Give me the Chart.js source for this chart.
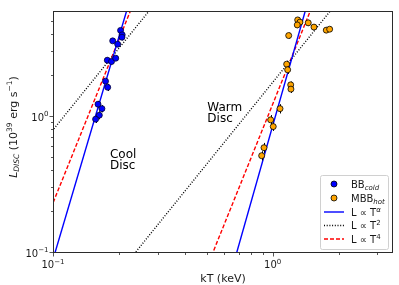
<!DOCTYPE html>
<html>
<head>
<meta charset="utf-8">
<script src="https://cdn.jsdelivr.net/npm/chart.js@4"></script>
<style>
html, body { margin: 0; padding: 0; background: #ffffff; }
#wrap { width: 399px; height: 285px; }
</style>
</head>
<body>
<div id="wrap"><canvas id="grafico"></canvas></div>
<script>
// BB cold
const coldT = [0.203, 0.2065, 0.206, 0.187, 0.197, 0.1767, 0.1846, 0.193, 0.1734, 0.1774, 0.1603, 0.167, 0.1625, 0.1563];
const coldL = [4.32, 4.01, 3.85, 3.62, 3.42, 2.61, 2.55, 2.70, 1.83, 1.65, 1.24, 1.15, 1.03, 0.962];
const coldErr = [0.2, 0.2, 0.2, 0.15, 0.15, 0.12, 0.12, 0.12, 0.1, 0.1, 0.07, 0.07, 0.07, 0.06];

// MBB hot
const hotT = [1.30, 1.331, 1.294, 1.452, 1.542, 1.754, 1.817, 1.183, 1.158, 1.17, 1.208, 1.211, 1.08, 0.979, 1.006, 0.913, 0.891];
const hotL = [5.16, 4.97, 4.74, 4.91, 4.57, 4.34, 4.41, 3.96, 2.44, 2.22, 1.72, 1.60, 1.15, 0.951, 0.849, 0.594, 0.519];
const hotErr = [0.25, 0.25, 0.25, 0.25, 0.22, 0.2, 0.2, 0.2, 0.15, 0.15, 0.1, 0.1, 0.09, 0.08, 0.06, 0.05, 0.04];

// power-law guide lines (end points)
const alphaColdT = [0.0891, 0.251];
const alphaColdL = [0.0478, 13.5];
const alphaHotT = [0.562, 1.778];
const alphaHotL = [0.0324, 22.7];
const t2ColdT = [0.0891, 0.316];
const t2ColdL = [0.637, 8.0];
const t2HotT = [0.1995, 2.24];
const t2HotL = [0.0714, 9.0];
const t4ColdT = [0.0891, 0.251];
const t4ColdL = [0.147, 9.29];
const t4HotT = [0.4467, 1.778];
const t4HotL = [0.0492, 12.4];

// ticks
const xTicks = [0.1, 0.2, 0.3, 0.4, 0.5, 0.6, 0.7, 0.8, 0.9, 1, 2, 3];
const yTicks = [0.1, 0.2, 0.3, 0.4, 0.5, 0.6, 0.7, 0.8, 0.9, 1, 2, 3, 4, 5];
const xLabels = { 0.1: "−1", 1: "0" };
const yLabels = { 0.1: "−1", 1: "0" };

// text notes
const noteText = [["Cool", "Disc"], ["Warm", "Disc"]];
const noteT = [0.1817, 0.504];
const noteL = [0.495, 1.098];

const FONT = "'DejaVu Sans', sans-serif";

function pares(xs, ys) {
    return xs.map((x, i) => ({ x: x, y: ys[i] }));
}

function desenharPartes(ctx, partes, x, y, align) {
    let total = 0;
    partes.forEach((p) => {
        ctx.font = (p.italic ? "italic " : "") + p.size + "px " + FONT;
        p.w = ctx.measureText(p.t).width;
        total += p.w;
    });
    let cx = x;
    if (align === "center") cx = x - total / 2;
    if (align === "right") cx = x - total;
    ctx.textAlign = "left";
    ctx.textBaseline = "alphabetic";
    partes.forEach((p) => {
        ctx.font = (p.italic ? "italic " : "") + p.size + "px " + FONT;
        ctx.fillText(p.t, cx, y + (p.dy || 0));
        cx += p.w;
    });
}

const pluginErros = {
    id: "erros",
    beforeDatasetDraw(chart, args) {
        const ds = chart.data.datasets[args.index];
        if (!ds.yErr) return;
        const ctx = chart.ctx;
        const x = chart.scales.x;
        const y = chart.scales.y;
        ctx.save();
        ctx.strokeStyle = "#000000";
        ctx.lineWidth = 1;
        ds.data.forEach((p, i) => {
            const px = Math.round(x.getPixelForValue(p.x)) + 0.5;
            ctx.beginPath();
            ctx.moveTo(px, y.getPixelForValue(p.y - ds.yErr[i]));
            ctx.lineTo(px, y.getPixelForValue(p.y + ds.yErr[i]));
            ctx.stroke();
        });
        ctx.restore();
    }
};

const pluginMoldura = {
    id: "moldura",
    afterDraw(chart) {
        const ctx = chart.ctx;
        const a = chart.chartArea;
        const x = chart.scales.x;
        const y = chart.scales.y;
        ctx.save();

        // frame
        ctx.strokeStyle = "#2b2b2b";
        ctx.lineWidth = 1;
        ctx.strokeRect(Math.round(a.left) + 0.5, Math.round(a.top) + 0.5,
            Math.round(a.right - a.left) - 1, Math.round(a.bottom - a.top) - 1);

        // ticks
        ctx.lineWidth = 0.8;
        xTicks.forEach((v) => {
            const major = Math.abs(Math.log10(v) - Math.round(Math.log10(v))) < 1e-6;
            const px = Math.round(x.getPixelForValue(v)) + 0.5;
            ctx.beginPath();
            ctx.moveTo(px, a.bottom);
            ctx.lineTo(px, a.bottom + (major ? 3.5 : 2));
            ctx.stroke();
        });
        yTicks.forEach((v) => {
            const major = Math.abs(Math.log10(v) - Math.round(Math.log10(v))) < 1e-6;
            const py = Math.round(y.getPixelForValue(v)) - 0.5;
            ctx.beginPath();
            ctx.moveTo(a.left, py);
            ctx.lineTo(a.left - (major ? 3.5 : 2), py);
            ctx.stroke();
        });

        // tick labels
        ctx.fillStyle = "#1a1a1a";
        Object.keys(xLabels).forEach((k) => {
            const px = x.getPixelForValue(Number(k));
            desenharPartes(ctx, [
                { t: "10", size: 10 },
                { t: xLabels[k], size: 7, dy: -4.5 }
            ], px, a.bottom + 15, "center");
        });
        Object.keys(yLabels).forEach((k) => {
            const py = y.getPixelForValue(Number(k));
            desenharPartes(ctx, [
                { t: "10", size: 10 },
                { t: yLabels[k], size: 7, dy: -4.5 }
            ], a.left - 4.5, py + 3.7, "right");
        });

        // axis titles
        desenharPartes(ctx, [{ t: "kT (keV)", size: 11 }], (a.left + a.right) / 2, 281.5, "center");
        ctx.save();
        ctx.translate(16.5, 127);
        ctx.rotate(-Math.PI / 2);
        desenharPartes(ctx, [
            { t: "L", size: 11, italic: true },
            { t: "DISC", size: 7.5, italic: true, dy: 2.5 },
            { t: " (10", size: 11 },
            { t: "39", size: 7.5, dy: -4.5 },
            { t: " erg s", size: 11 },
            { t: "−1", size: 7.5, dy: -4.5 },
            { t: ")", size: 11 }
        ], 0, 0, "center");
        ctx.restore();

        // notes
        ctx.fillStyle = "#000000";
        noteText.forEach((linhas, i) => {
            const px = x.getPixelForValue(noteT[i]);
            const py = y.getPixelForValue(noteL[i]);
            linhas.forEach((txt, j) => {
                desenharPartes(ctx, [{ t: txt, size: 12 }], px, py + j * 11, "left");
            });
        });

        // legend
        const lx = 320, ly = 175, lw = 68, lh = 74;
        ctx.beginPath();
        ctx.roundRect(lx + 0.5, ly + 0.5, lw, lh, 2);
        ctx.fillStyle = "rgba(255,255,255,0.85)";
        ctx.fill();
        ctx.strokeStyle = "#d0d0d0";
        ctx.lineWidth = 1;
        ctx.stroke();

        const linhasY = [184, 198, 212, 225.5, 239];
        const hx0 = 324, hx1 = 344, tx = 351;
        // markers
        [["#0000ff", linhasY[0]], ["#ffa500", linhasY[1]]].forEach((m) => {
            ctx.beginPath();
            ctx.arc((hx0 + hx1) / 2, m[1], 3, 0, Math.PI * 2);
            ctx.fillStyle = m[0];
            ctx.fill();
            ctx.strokeStyle = "#000000";
            ctx.lineWidth = 0.8;
            ctx.stroke();
        });
        // line handles
        [["#0000ff", [], linhasY[2]], ["#000000", [1, 1.7], linhasY[3]], ["#ff0000", [4, 2], linhasY[4]]].forEach((h) => {
            ctx.beginPath();
            ctx.setLineDash(h[1]);
            ctx.strokeStyle = h[0];
            ctx.lineWidth = 1.4;
            ctx.moveTo(hx0, h[2]);
            ctx.lineTo(hx1, h[2]);
            ctx.stroke();
        });
        ctx.setLineDash([]);
        ctx.fillStyle = "#1a1a1a";
        const textos = [
            [{ t: "BB", size: 10 }, { t: "cold", size: 7, italic: true, dy: 2.5 }],
            [{ t: "MBB", size: 10 }, { t: "hot", size: 7, italic: true, dy: 2.5 }],
            [{ t: "L ∝ T", size: 10 }, { t: "α", size: 7, italic: true, dy: -4 }],
            [{ t: "L ∝ T", size: 10 }, { t: "2", size: 7, dy: -4 }],
            [{ t: "L ∝ T", size: 10 }, { t: "4", size: 7, dy: -4 }]
        ];
        textos.forEach((partes, i) => {
            desenharPartes(ctx, partes, tx, linhasY[i] + 3.6, "left");
        });

        ctx.restore();
    }
};

function linha(xs, ys, cor, dash) {
    return {
        data: pares(xs, ys),
        showLine: true,
        borderColor: cor,
        borderWidth: 1.4,
        borderDash: dash,
        pointRadius: 0,
        fill: false,
        order: 2
    };
}

function escala(min, max, ticks, pos) {
    return {
        type: "logarithmic",
        position: pos,
        min: min,
        max: max,
        grid: { display: false },
        border: { display: false },
        ticks: { display: false },
        afterBuildTicks: (s) => { s.ticks = ticks.map((v) => ({ value: v })); },
        afterFit: (s) => {
            if (pos === "left") s.width = 53; else s.height = 32;
        }
    };
}

const ctx = document.getElementById("grafico").getContext("2d");

new Chart(ctx, {
    type: "scatter",
    data: {
        datasets: [
            {
                data: pares(coldT, coldL),
                yErr: coldErr,
                backgroundColor: "#0000ff",
                borderColor: "#000033",
                borderWidth: 0.8,
                pointRadius: 3,
                order: 0
            },
            {
                data: pares(hotT, hotL),
                yErr: hotErr,
                backgroundColor: "#ffa500",
                borderColor: "#000000",
                borderWidth: 0.8,
                pointRadius: 3,
                order: 1
            },
            linha(alphaColdT, alphaColdL, "#0000ff", []),
            linha(alphaHotT, alphaHotL, "#0000ff", []),
            linha(t2ColdT, t2ColdL, "#000000", [1, 1.7]),
            linha(t2HotT, t2HotL, "#000000", [1, 1.7]),
            linha(t4ColdT, t4ColdL, "#ff0000", [4, 2]),
            linha(t4HotT, t4HotL, "#ff0000", [4, 2])
        ]
    },
    options: {
        responsive: true,
        maintainAspectRatio: false,
        animation: false,
        events: [],
        layout: { padding: { top: 11, right: 6, left: 0, bottom: 0 } },
        scales: {
            x: escala(0.1, 3.53, xTicks, "bottom"),
            y: escala(0.1, 6.0, yTicks, "left")
        },
        plugins: {
            legend: { display: false },
            tooltip: { enabled: false }
        }
    },
    plugins: [pluginErros, pluginMoldura]
});
</script>
</body>
</html>
